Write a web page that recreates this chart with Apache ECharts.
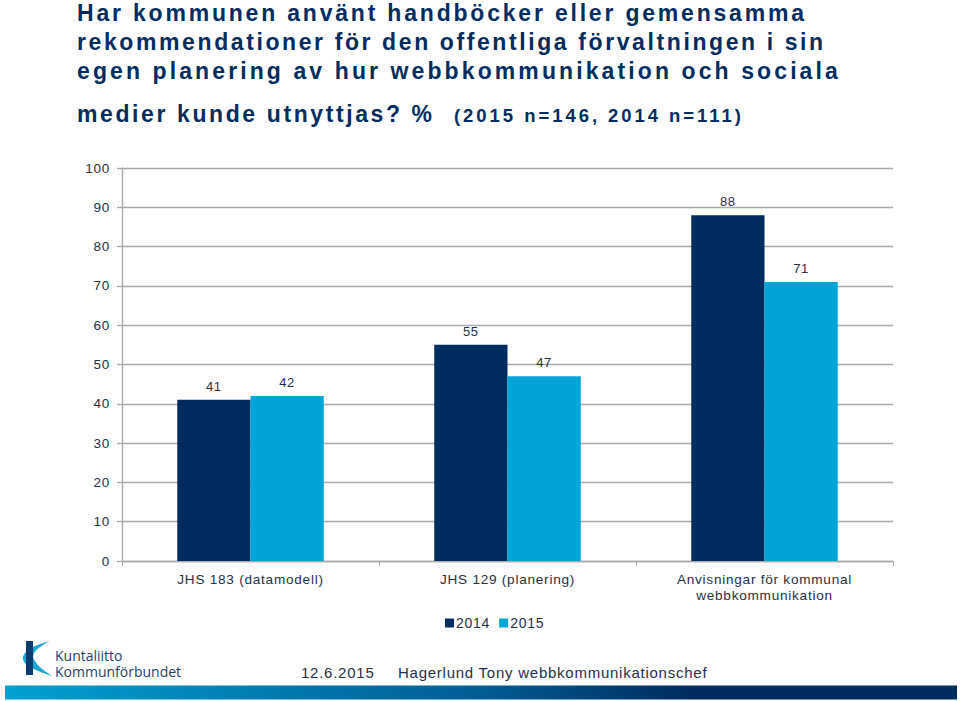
<!DOCTYPE html>
<html>
<head>
<meta charset="utf-8">
<style>
  html, body { margin: 0; padding: 0; background: #fff; }
  #chart { width: 960px; height: 701px; }
  /* glesare text som i originalet, zrender har ingen egen letterSpacing */
  #chart svg text { letter-spacing: 0.75px; }
  #chart svg text[style*="Open Sans"] { letter-spacing: 0; }
</style>
<script src="https://cdn.jsdelivr.net/npm/echarts@6/dist/echarts.min.js"></script>
</head>
<body>
<div id="chart"></div>
<script>
const categories = ['JHS 183 (datamodell)', 'JHS 129 (planering)', 'Anvisningar för kommunal\nwebbkommunikation']
const values2014 = [41, 55, 88]
const values2015 = [42, 47, 71]
const titleLines = [
  'Har kommunen använt handböcker eller gemensamma',
  'rekommendationer för den offentliga förvaltningen i sin',
  'egen planering av hur webbkommunikation och sociala',
  'medier kunde utnyttjas? %'
]
const subtitle = '(2015 n=146, 2014 n=111)'
const footerDate = '12.6.2015'
const footerName = 'Hagerlund Tony webbkommunikationschef'
const logoText = 'Kuntaliitto\nKommunförbundet'

const NAVY = '#002c60'
const CYAN = '#00a5d8'
const TEXT = '#1f3048'
const LINE = '#a8abad'
const FONT = '"Liberation Sans", Arial, sans-serif'

// raderna i rubriken är olika glesa
const titleSpacing = [2.8, 2.6, 3.1, 2.6]
const subtitleSpacing = 2.95

echarts.graphic.registerShape('logoSwoosh', echarts.graphic.extendPath(
  'M50 641C35 645 23 650 23 659C23 666 40 672 52 676C43 670 35 664 33 657C33 651 42 645 50 641Z', {}))
echarts.graphic.registerShape('logoBar', echarts.graphic.extendPath('M26 641H33V675H26Z', {}))

function label(text, x, y, size, extra) {
  return {
    type: 'text',
    x: x,
    y: y,
    style: Object.assign({
      text: text,
      fill: TEXT,
      font: size + 'px ' + FONT,
      verticalAlign: 'middle'
    }, extra || {})
  }
}

const titleY = [13, 42, 71, 114]
const titleTexts = titleLines.map((t, i) => label(t, 77, titleY[i], 23, {
  fill: NAVY,
  font: 'bold 23px ' + FONT
}))

const chart = echarts.init(document.getElementById('chart'), null, { renderer: 'svg' })

chart.on('finished', () => {
  document.querySelectorAll('#chart svg text').forEach(el => {
    const i = titleLines.indexOf(el.textContent)
    if (i >= 0) el.style.letterSpacing = titleSpacing[i] + 'px'
    if (el.textContent === subtitle) el.style.letterSpacing = subtitleSpacing + 'px'
  })
})

chart.setOption({
  animation: false,
  backgroundColor: '#fff',
  textStyle: { fontFamily: FONT },
  grid: { left: 122, right: 67, top: 168, bottom: 140 },
  legend: {
    left: 440,
    top: 611,
    itemWidth: 9,
    itemHeight: 9,
    itemGap: 12,
    icon: 'rect',
    textStyle: { fontSize: 14, color: TEXT, padding: [0, 0, 0, -3] },
    data: ['2014', '2015']
  },
  xAxis: {
    type: 'category',
    data: categories,
    axisLine: { lineStyle: { color: LINE, width: 1.4 } },
    axisTick: { show: true, length: 5, lineStyle: { color: LINE } },
    axisLabel: { color: TEXT, fontSize: 13.6, margin: 10, lineHeight: 16 }
  },
  yAxis: {
    type: 'value',
    min: 0,
    max: 100,
    interval: 10,
    axisLine: { show: true, lineStyle: { color: LINE, width: 1.4 } },
    axisTick: { show: true, length: 5, lineStyle: { color: LINE, width: 1.4 } },
    axisLabel: { color: TEXT, fontSize: 13.5, margin: 12 },
    splitLine: { lineStyle: { color: LINE, width: 1.4 } }
  },
  series: [
    {
      name: '2014',
      type: 'bar',
      data: values2014,
      barGap: 0,
      barCategoryGap: '43%',
      itemStyle: { color: NAVY },
      label: { show: true, position: 'top', distance: 7, color: TEXT, fontSize: 13 }
    },
    {
      name: '2015',
      type: 'bar',
      data: values2015,
      itemStyle: { color: CYAN },
      label: { show: true, position: 'top', distance: 7, color: TEXT, fontSize: 13 }
    }
  ],
  graphic: titleTexts.concat([
    label(subtitle, 454, 115, 18.5, { fill: NAVY, font: 'bold 18.5px ' + FONT }),
    label(footerDate, 301, 672, 15),
    label(footerName, 398, 672, 15),
    // logotyp
    { type: 'logoSwoosh', style: { fill: '#19a7d6' } },
    { type: 'logoBar', style: { fill: '#0b3a6e' } },
    label(logoText, 55, 663, 14, { fill: '#1d3f6b', font: '14px "Open Sans", sans-serif', lineHeight: 16 }),
    // list längst ner
    {
      type: 'rect',
      shape: { x: 5, y: 685.5, width: 952, height: 14 },
      style: {
        fill: new echarts.graphic.LinearGradient(0, 0, 1, 0, [
          { offset: 0, color: '#03a0d2' },
          { offset: 0.5, color: '#015d94' },
          { offset: 0.72, color: NAVY },
          { offset: 1, color: NAVY }
        ])
      }
    }
  ])
})
</script>
</body>
</html>
